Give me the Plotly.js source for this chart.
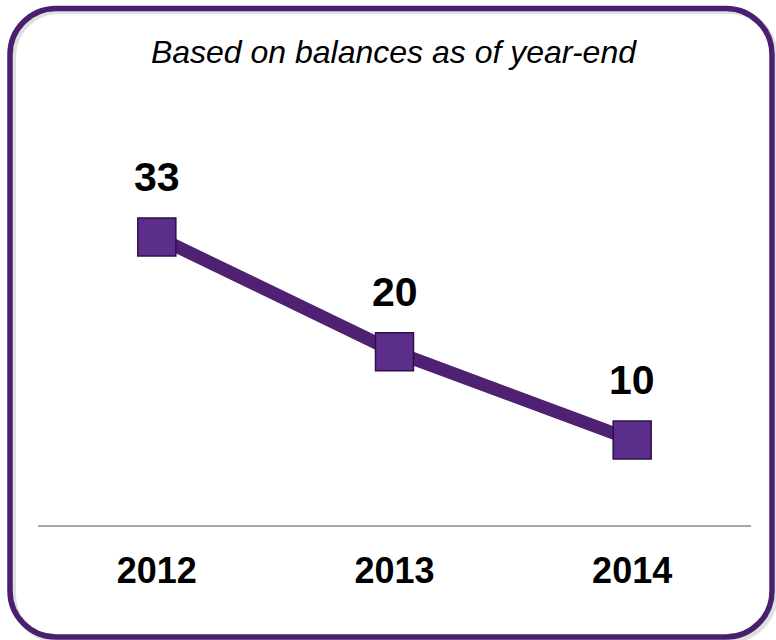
<!DOCTYPE html>
<html>
<head>
<meta charset="utf-8">
<script src="https://cdn.plot.ly/plotly-3.0.1.min.js"></script>
<style>html,body{margin:0;padding:0;background:#fff;}#chart{width:776px;height:640px;}</style>
</head>
<body>
<div id="chart"></div>
<script>
const years = ["2012", "2013", "2014"];
const values = [33, 20, 10];
const labels = ["33", "20", "10"];
const chartTitle = "Based on balances as of year-end";

const W = 776, H = 640;
function px(x){ return (x / W).toFixed(5); }
function py(y){ return (1 - y / H).toFixed(5); }
function roundRect(x0, y0, x1, y1, r){
  const k = 0.5523 * r;
  const P = (x, y) => px(x) + ',' + py(y);
  return 'M' + P(x0 + r, y0) +
    ' L' + P(x1 - r, y0) +
    ' C' + P(x1 - r + k, y0) + ' ' + P(x1, y0 + r - k) + ' ' + P(x1, y0 + r) +
    ' L' + P(x1, y1 - r) +
    ' C' + P(x1, y1 - r + k) + ' ' + P(x1 - r + k, y1) + ' ' + P(x1 - r, y1) +
    ' L' + P(x0 + r, y1) +
    ' C' + P(x0 + r - k, y1) + ' ' + P(x0, y1 - r + k) + ' ' + P(x0, y1 - r) +
    ' L' + P(x0, y0 + r) +
    ' C' + P(x0, y0 + r - k) + ' ' + P(x0 + r - k, y0) + ' ' + P(x0 + r, y0) + ' Z';
}

const FONT = 'Liberation Sans, Arial, sans-serif';

const trace = {
  x: years,
  y: values,
  type: 'scatter',
  mode: 'lines+markers',
  line: {color: '#4f2172', width: 13},
  marker: {symbol: 'square', size: 38, color: '#5c2e8c', line: {color: '#2f0f4a', width: 1.5}},
  hoverinfo: 'none'
};

const annotations = years.map((yr, i) => ({
  x: i, y: values[i], xref: 'x', yref: 'y',
  text: '<b>' + labels[i] + '</b>',
  showarrow: false, yshift: 60,
  xanchor: 'center', yanchor: 'middle',
  font: {family: FONT, size: 41, color: '#000000'}
}));

const layout = {
  width: W, height: H,
  margin: {l: 0, r: 0, t: 0, b: 0},
  paper_bgcolor: '#ffffff',
  plot_bgcolor: 'rgba(0,0,0,0)',
  showlegend: false,
  title: {
    text: '<i>' + chartTitle + '</i>',
    x: 0.507, xanchor: 'center', y: 1 - 52 / H, yanchor: 'middle',
    font: {family: FONT, size: 32, color: '#000'}
  },
  xaxis: {
    type: 'category',
    domain: [38 / W, 751 / W],
    range: [-0.5, 2.5],
    showgrid: false, zeroline: false,
    showline: true, linecolor: '#a6a6a6', linewidth: 2,
    ticks: '',
    ticklabelstandoff: 13,
    tickfont: {family: FONT, size: 36, color: '#000', weight: 'bold'}
  },
  yaxis: {
    domain: [1 - 525 / H, 1 - 100 / H],
    range: [0.374, 48.5],
    showgrid: false, zeroline: false, showline: false,
    showticklabels: false, ticks: ''
  },
  annotations: annotations,
  shapes: [
    {type: 'path', xref: 'paper', yref: 'paper', layer: 'below',
     path: roundRect(13, 11, 775, 640, 46),
     line: {color: 'rgba(0,0,0,0.12)', width: 6}, fillcolor: 'rgba(0,0,0,0)'},
    {type: 'path', xref: 'paper', yref: 'paper', layer: 'above',
     path: roundRect(10, 8.5, 772, 637, 46),
     line: {color: '#4b1f6f', width: 5.5}, fillcolor: 'rgba(0,0,0,0)'}
  ]
};

try {
  Plotly.newPlot('chart', [trace], layout, {displayModeBar: false});
} catch (e) {
  document.body.insertAdjacentHTML('beforeend', '<pre>' + e + '</pre>');
}
</script>
</body>
</html>
